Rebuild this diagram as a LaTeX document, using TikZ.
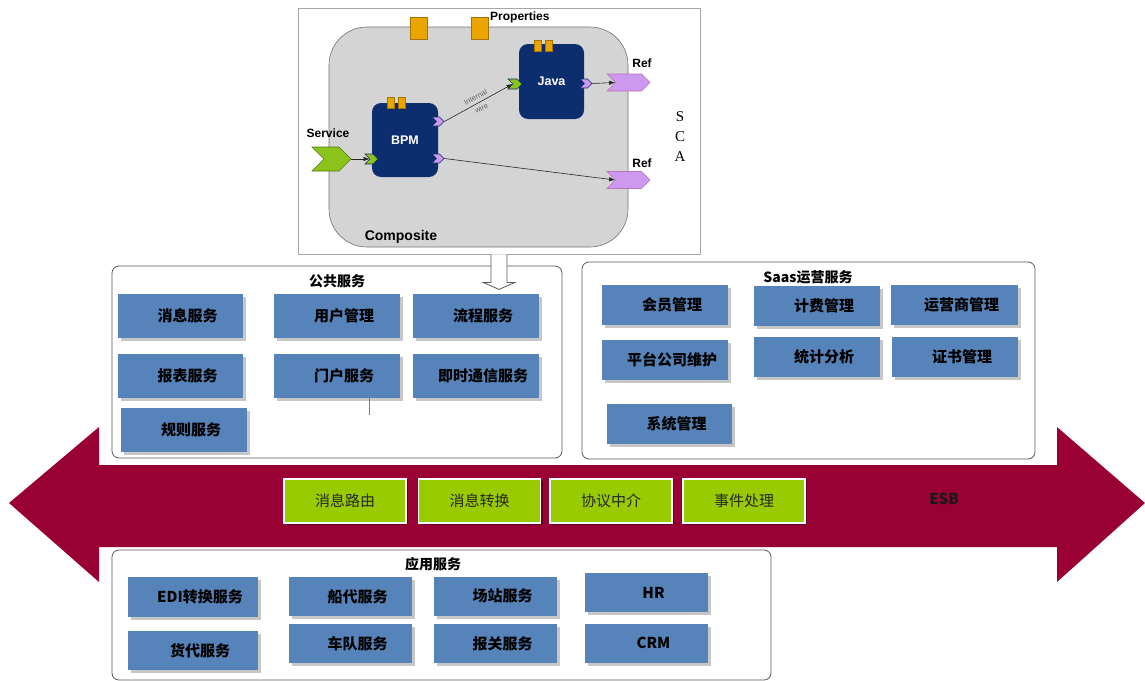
\documentclass[tikz,border=0pt]{standalone}
\usepackage{fontspec}
\setmainfont{Noto Sans CJK SC}
\newfontfamily\arialfont{Liberation Sans}
\newfontfamily\timesfont{Liberation Serif}
\usetikzlibrary{shapes.symbols,shadows,arrows.meta}
\definecolor{esbred}{HTML}{990033}
\definecolor{svcblue}{HTML}{5683B9}
\definecolor{busgreen}{HTML}{99CC00}
\definecolor{compnavy}{HTML}{0D2E6E}
\definecolor{propgold}{HTML}{EBA500}
\definecolor{portgreen}{HTML}{8CC31A}
\definecolor{portlilac}{HTML}{CC99EE}
\definecolor{compgray}{HTML}{D4D4D4}
\tikzset{
    svcbox/.style={fill=svcblue, minimum width=#1, minimum height=40pt, inner sep=0pt,
        font=\fontsize{15}{18}\selectfont\bfseries, execute at begin node={\hspace*{14pt}},
        general shadow={fill=black!22, shadow xshift=3pt, shadow yshift=-3pt}},
    svcbox/.default=126pt,
    busbox/.style={fill=busgreen, draw=white, line width=1.5pt, minimum width=122pt,
        minimum height=44pt, inner sep=0pt, text=black!85, font=\fontsize{15}{18}\selectfont,
        general shadow={fill=black, opacity=.35, shadow xshift=2pt, shadow yshift=-2pt}},
    groupbox/.style={draw=black!65, fill=white, rounded corners=7pt, line width=.8pt, inner sep=0pt},
    grouptitle/.style={font=\fontsize{14}{16}\selectfont\bfseries, inner sep=0pt},
    scalabel/.style={font=\arialfont\fontsize{12}{14}\selectfont\bfseries, inner sep=0pt},
    component/.style={fill=compnavy, rounded corners=9pt, text=white, inner sep=0pt,
        font=\arialfont\fontsize{12.5}{14}\selectfont\bfseries},
    tabbox/.style={fill=propgold, draw=propgold!70!black, line width=.4pt,
        minimum width=7pt, minimum height=11pt, inner sep=0pt},
    propbox/.style={fill=propgold, draw=propgold!70!black, line width=.5pt,
        minimum width=17pt, minimum height=22pt, inner sep=0pt},
    port/.style={signal, signal to=east, signal from=west, inner sep=0pt,
        draw=compnavy, line width=.6pt},
    wire/.style={-{Latex[length=6pt,width=4.5pt]}, line width=.6pt, black!85},
    wiretext/.style={font=\arialfont\fontsize{7.5}{8}\selectfont, text=black!60, inner sep=0pt}
}

\begin{document}
\begin{tikzpicture}[x=1pt,y=-1pt]
    \useasboundingbox (0,0) rectangle (1145,680);
    \node[draw=black!35, line width=.8pt, minimum width=402pt, minimum height=246pt] (sca) at (499,131) {};
    \node[fill=compgray, draw=black!55, line width=.6pt, rounded corners=38pt,
        minimum width=299pt, minimum height=220pt] (comp) at (478.5,137) {};
    \node[propbox] (propa) at (419,28) {};
    \node[propbox] (propb) at (479.5,28) {};
    \node[scalabel, anchor=west] (proplbl) at (490,17) {Properties};
    \node[component, minimum width=65pt, minimum height=75pt] (java) at (551.5,81.5) {Java};
    \node[component, minimum width=66pt, minimum height=74pt] (bpm) at (405,140) {BPM};
    \foreach \tx/\ty [count=\i] in {537.5/45.5, 549/45.5, 390.5/102.5, 401.5/102.5}
        \node[tabbox] (tab\i) at (\tx,\ty) {};
    \node[port, fill=portgreen, draw=portgreen!60!black, minimum width=39pt, minimum height=24pt] (svc) at (331.5,159) {};
    \node[port, fill=portgreen, minimum width=13pt, minimum height=10pt] (bpmin) at (371.5,159) {};
    \node[port, fill=portlilac, minimum width=12pt, minimum height=9pt] (bpmouta) at (438,121.5) {};
    \node[port, fill=portlilac, minimum width=12pt, minimum height=9pt] (bpmoutb) at (438,158.5) {};
    \node[port, fill=portgreen, minimum width=14pt, minimum height=10pt] (javain) at (515,84) {};
    \node[port, fill=portlilac, minimum width=12pt, minimum height=9pt] (javaout) at (586,83.5) {};
    \node[port, fill=portlilac, draw=violet!55, minimum width=43pt, minimum height=17pt] (refa) at (628.5,82.5) {};
    \node[port, fill=portlilac, draw=violet!55, minimum width=43pt, minimum height=17pt] (refb) at (628.5,180) {};
    \node[scalabel] (svclbl) at (328,133) {Service};
    \node[scalabel] (reflbla) at (642,63) {Ref};
    \node[scalabel] (reflblb) at (642,163) {Ref};
    \node[scalabel, font=\arialfont\fontsize{14}{16}\selectfont\bfseries] (complbl) at (401,237) {Composite};
    \node[font=\timesfont\fontsize{15}{20}\selectfont, align=center, inner sep=0pt] (scatxt) at (680,137) {S\\C\\A};
    \draw[wire] (svc.east) -- (bpmin.west);
    \draw[wire] (bpmouta.east) -- (javain.west)
        node[pos=.5, sloped, above=3pt, wiretext] (wirea) {Internal}
        node[pos=.5, sloped, below=3pt, wiretext] (wireb) {wire};
    \draw[wire] (javaout.east) -- (refa.west);
    \draw[wire] (bpmoutb.east) -- (refb.west);

    \fill[esbred] (9,503) -- (99,427) -- (99,465) -- (1057,465) -- (1057,427) -- (1145,503)
        -- (1057,582) -- (1057,547) -- (99,547) -- (99,582) -- cycle;
    \node[font=\fontsize{15}{18}\selectfont\bfseries, text=black!90] (esb) at (944,499) {ESB};
    \foreach \name/\bx/\txt in {route/345/消息路由, convert/479.5/消息转换, protocol/611/协议中介, event/744/事件处理}
        \node[busbox] (\name) at (\bx,501) {\txt};

    \node[groupbox, minimum width=450pt, minimum height=192pt] (pub) at (337,362) {};
    \node[grouptitle] (pubttl) at (337,281) {公共服务};
    \node[svcbox=125pt, minimum height=44pt] (msg) at (180.5,316) {消息服务};
    \node[svcbox, minimum height=44pt] (user) at (337,316) {用户管理};
    \node[svcbox, minimum height=44pt] (flow) at (476,316) {流程服务};
    \node[svcbox=125pt, minimum height=44pt] (report) at (180.5,376) {报表服务};
    \node[svcbox, minimum height=44pt] (portal) at (337,376) {门户服务};
    \node[svcbox, minimum height=44pt] (im) at (476,376) {即时通信服务};
    \node[svcbox, minimum height=44pt] (rule) at (184,430) {规则服务};
    \coordinate (stub) at (369,415);
    \draw[svcblue, line width=.8pt] (portal.south -| stub) -- (stub);

    \node[groupbox, minimum width=453pt, minimum height=197pt] (saas) at (808.5,360.5) {};
    \node[grouptitle] (saasttl) at (808,277) {Saas运营服务};
    \node[svcbox] (member) at (665,305) {会员管理};
    \node[svcbox] (billing) at (817,305.5) {计费管理};
    \node[svcbox=127pt] (operator) at (954.5,305) {运营商管理};
    \node[svcbox] (company) at (665,359.5) {平台公司维护};
    \node[svcbox] (stats) at (817,356.5) {统计分析};
    \node[svcbox] (cert) at (955,356.5) {证书管理};
    \node[svcbox=125pt] (system) at (669.5,424) {系统管理};

    \draw[fill=white, draw=black!65, line width=.8pt] (sca.south) ++(-8,0) -- ++(0,28) -- ++(-8,0)
        -- ++(16,7) -- ++(16,-7) -- ++(-8,0) -- ++(0,-28);

    \node[groupbox, minimum width=659pt, minimum height=130pt] (app) at (441.5,615) {};
    \node[grouptitle] (appttl) at (433,564) {应用服务};
    \node[svcbox=130pt] (edi) at (193,597) {EDI转换服务};
    \node[svcbox=130pt, minimum height=39pt] (forward) at (193,650.5) {货代服务};
    \node[svcbox=123pt, minimum height=39pt] (shipping) at (350.5,596.5) {船代服务};
    \node[svcbox=123pt, minimum height=39pt] (fleet) at (350.5,643.5) {车队服务};
    \node[svcbox=123pt, minimum height=39pt] (yard) at (495.5,596) {场站服务};
    \node[svcbox=123pt, minimum height=39pt] (customs) at (495.5,643.5) {报关服务};
    \node[svcbox=123pt, minimum height=39pt, execute at begin node={}] (hr) at (646.5,592.5) {HR};
    \node[svcbox=123pt, minimum height=39pt, execute at begin node={}] (crm) at (646.5,643) {CRM};
\end{tikzpicture}
\end{document}
